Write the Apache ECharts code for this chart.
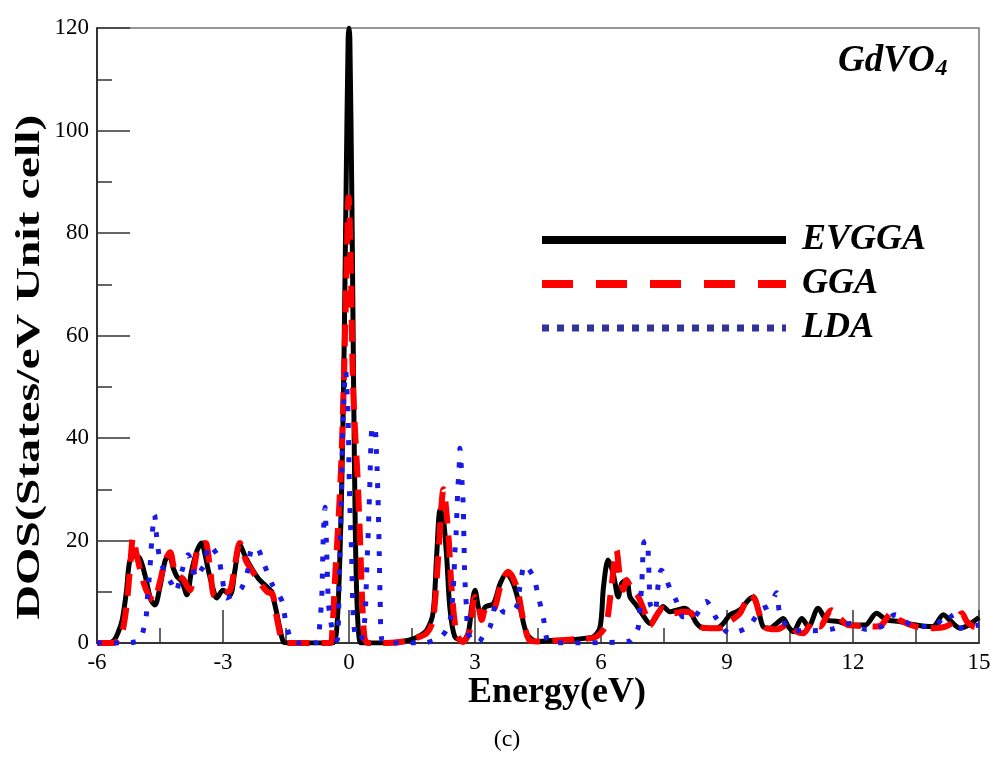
<!DOCTYPE html>
<html><head><meta charset="utf-8">
<script src="https://cdn.jsdelivr.net/npm/echarts@6/dist/echarts.min.js"></script>
<style>html,body{margin:0;padding:0;background:#fff}#c{width:994px;height:757px}</style>
</head><body><div id="c"></div>
<script>
const seriesNames = ['EVGGA', 'GGA', 'LDA'];
const xTicks = [-6, -3, 0, 3, 6, 9, 12, 15];
const yTicks = [0, 20, 40, 60, 80, 100, 120];

const evggaE = [-6,-5.75,-5.6,-5.5,-5.4,-5.3,-5.22,-5.1,-4.98,-4.85,-4.72,-4.62,-4.5,-4.38,-4.28,-4.18,-4.1,-3.98,-3.86,-3.75,-3.62,-3.51,-3.42,-3.35,-3.25,-3.15,-3.0,-2.83,-2.72,-2.6,-2.45,-2.29,-2.15,-2.05,-1.9,-1.84,-1.78,-1.72,-1.65,-1.56,-1.45,-0.4,-0.3,-0.22,-0.17,-0.12,-0.07,-0.02,0,0.02,0.07,0.11,0.15,0.19,0.24,0.3,0.8,1.2,1.45,1.7,1.85,2.0,2.09,2.17,2.25,2.33,2.4,2.52,2.71,2.84,2.92,3.0,3.08,3.16,3.24,3.44,3.6,3.75,3.91,4.07,4.23,4.47,4.8,5.2,5.6,5.82,5.98,6.06,6.17,6.29,6.41,6.49,6.61,6.69,6.81,6.97,7.17,7.29,7.48,7.64,7.8,8.0,8.16,8.28,8.44,8.75,8.91,9.07,9.23,9.35,9.51,9.63,9.75,9.86,10.02,10.18,10.34,10.46,10.58,10.78,10.94,11.17,11.37,11.65,11.97,12.29,12.56,12.8,13.1,13.5,13.9,14.15,14.3,14.55,14.75,14.87,15];
const evggaDOS = [0,0,0.5,2,4.5,10,16,17,16.5,13,8.5,7.4,11,16,17.2,14.5,13,12,9.4,14,18,19.5,17,14.2,11,8.8,10.3,9.4,14,19.1,16.5,14.2,12.5,11.7,10.5,10,8,5.8,3,0.2,0,0,2,16,32,55,88,118,120,118,85,50,22,8,1,0,0,0.2,0.6,1.5,2.5,5.8,17.5,26,24,16.2,7,1.2,0.5,2,7,10.3,7,5.1,7,7.7,11.6,13.6,11.6,7.1,1.9,0.3,0.5,0.6,0.9,1.2,3.2,11,16.2,13.6,9,11.6,12.3,9,7.7,5.8,3.8,4.8,7.1,6.1,6.4,6.8,5.5,3.8,2.9,2.9,3.8,5.5,6.1,6.8,8.4,9,6.4,3.2,2.9,3.8,4.8,3.2,2.2,4.8,3.2,6.8,4.5,4.2,3.5,3.5,5.8,4.5,4.2,3.5,3.2,5.5,4.5,2.9,3.5,4.2,5];

const ggaE = [-6,-5.6,-5.5,-5.4,-5.3,-5.22,-5.14,-5.05,-4.9,-4.75,-4.65,-4.5,-4.38,-4.26,-4.15,-4.05,-3.95,-3.85,-3.78,-3.68,-3.59,-3.45,-3.39,-3.3,-3.2,-3.0,-2.83,-2.72,-2.6,-2.45,-2.3,-2.1,-1.95,-1.82,-1.72,-1.6,-1.5,-0.45,-0.4,-0.33,-0.25,-0.18,-0.12,-0.06,-0.01,0.04,0.09,0.14,0.2,0.26,0.31,0.37,0.45,0.9,1.3,1.6,1.85,2.0,2.13,2.25,2.37,2.44,2.56,2.71,2.86,3.0,3.08,3.16,3.27,3.43,3.6,3.79,3.99,4.15,4.3,4.47,5.0,5.5,5.82,6.0,6.13,6.25,6.37,6.45,6.53,6.61,6.73,6.89,7.05,7.17,7.33,7.48,7.72,7.96,8.16,8.36,8.6,8.83,9.07,9.31,9.55,9.67,9.79,9.94,10.2,10.34,10.46,10.66,10.82,11.05,11.2,11.49,11.69,11.89,12.3,12.56,12.68,12.92,13.1,13.5,13.9,14.2,14.45,14.59,14.71,14.87,15];
const ggaDOS = [0,0,0.5,2,7,14,20.5,17,12,9,8.3,12,16,17.7,14,13,12.5,11,10.3,15,18.6,19.5,19.3,14,9.1,9.8,10.3,15,19.5,16,14,11.5,10,9.5,5,0.6,0,0,2,13,24,36,52,72,87,75,52,42,33,21,9,1,0,0,0.3,1,1.9,4.5,17.5,30,20.7,11,1.9,0.2,2,9,7.5,4.5,7,6.5,10.9,13.9,11,4.5,0.5,0.3,0.5,0.8,1,2,3.8,11,18.1,12.9,10.4,12.3,10.4,9,5.8,3.5,5.5,6.8,5.8,6.1,5.8,3.2,2.9,2.9,4.2,5.8,9.4,8.4,5.2,2.9,2.7,3.2,3.8,2.2,1.9,4.2,3.2,6.4,4.8,3.5,3.3,3.2,3.5,5.8,4.5,3.2,2.9,3.2,4.5,5.8,4.2,3.2,3];

const ldaE = [-6,-5.3,-5.1,-4.98,-4.88,-4.83,-4.8,-4.76,-4.72,-4.69,-4.63,-4.58,-4.51,-4.42,-4.33,-4.22,-4.13,-3.98,-3.83,-3.72,-3.64,-3.5,-3.44,-3.33,-3.2,-3.1,-3.02,-2.91,-2.75,-2.56,-2.41,-2.33,-2.21,-2.02,-1.82,-1.59,-1.51,-1.42,-1.35,-1.2,-0.8,-0.73,-0.69,-0.65,-0.61,-0.57,-0.54,-0.51,-0.49,-0.44,-0.35,-0.28,-0.23,-0.2,-0.17,-0.15,-0.12,-0.08,-0.04,-0.02,0,0.02,0.06,0.08,0.12,0.2,0.3,0.38,0.42,0.46,0.5,0.52,0.56,0.62,0.65,0.67,0.7,0.72,0.74,0.78,0.9,1.77,2.1,2.22,2.35,2.42,2.47,2.5,2.52,2.55,2.57,2.59,2.62,2.64,2.67,2.69,2.72,2.73,2.74,2.75,2.77,2.8,2.83,2.95,3.08,3.2,3.36,3.48,3.56,3.67,3.83,3.99,4.07,4.19,4.39,4.51,4.63,4.71,4.85,6.65,6.8,6.89,6.93,6.97,6.99,7.02,7.1,7.13,7.15,7.17,7.29,7.34,7.44,7.64,7.8,7.96,8.2,8.5,8.75,9.07,9.51,9.79,10.02,10.18,10.26,10.54,11.0,11.49,11.93,12.29,12.68,13.0,13.42,13.9,14.27,14.5,14.75,15];
const ldaDOS = [0,0,0.2,0.6,3,5,8.8,12.4,16.9,20.8,25,20.8,16.6,14.5,13,11.5,10,14,17.2,14.5,12.7,14.5,15.3,19.1,18,16.6,12.7,8.8,9.5,10.7,14.2,18.1,18.7,15.3,11.3,8.1,4.2,1.5,0.3,0,0,0.6,4.5,8.5,21.4,26.5,20,12.3,7.8,4.5,1,0.6,12.9,21.4,33,41.6,48,53,48,43.5,34.4,26.6,18.1,10.3,3.2,0.5,1,5.1,13.6,22,32,38.3,42.2,42,38,33.8,25.4,17.6,9,0.6,0,0,0.8,1.4,3,5.1,9,13.3,17.5,21.4,25.6,29.9,33.8,38,35,31.6,26.9,22.8,18.8,14.6,10.7,6.4,2.2,0.3,0.1,1.5,3.2,7.4,7.7,6.1,5.9,7.1,11,15.2,12.9,9,4.8,0.9,0,0.3,1.5,3.2,7.2,11.3,15.5,19.6,20,15.9,11.8,7.7,6.1,10,14.2,10.7,8.1,5.1,5.1,8.1,4.8,1.9,3.2,6.4,7.4,9.8,5.8,2.5,2.4,2.7,3.8,2.7,3.2,5.5,3.4,3.2,5.8,2.9,3.2,3.5];

function pairs(xs, ys) { return xs.map((x, i) => [x, ys[i]]); }

const F = '"Liberation Serif", "Times New Roman", serif';
const chart = echarts.init(document.getElementById('c'), null, { renderer: 'canvas' });

const axisCommon = {
  type: 'value',
  axisLine: { onZero: false, lineStyle: { color: '#333', width: 2 } },
  axisTick: { inside: true, length: 33, lineStyle: { color: '#333', width: 1.5 } },
  minorTick: { show: true, splitNumber: 2, length: 15, lineStyle: { color: '#333', width: 1.5 } },
  splitLine: { show: false },
  axisLabel: { fontFamily: F, fontSize: 23, color: '#000' }
};

const hidden = { color: 'rgba(0,0,0,0)', borderWidth: 0, opacity: 0 };

const option = {
  animation: false,
  backgroundColor: '#fff',
  grid: { left: 97, right: 15, top: 28, bottom: 114, show: true, borderColor: '#777', borderWidth: 1.5 },
  xAxis: Object.assign({}, axisCommon, {
    min: xTicks[0], max: xTicks[xTicks.length - 1], interval: xTicks[1] - xTicks[0],
    axisLabel: Object.assign({}, axisCommon.axisLabel, { margin: 8 })
  }),
  yAxis: Object.assign({}, axisCommon, {
    min: yTicks[0], max: yTicks[yTicks.length - 1], interval: yTicks[1] - yTicks[0],
    axisLabel: Object.assign({}, axisCommon.axisLabel, { margin: 8 })
  }),
  title: {
    text: '{a|GdVO}{b|4}',
    left: 833, top: 36,
    textStyle: {
      rich: {
        a: { fontFamily: F, fontSize: 37, fontStyle: 'italic', fontWeight: 'bold', color: '#000' },
        b: { fontFamily: F, fontSize: 24, fontStyle: 'italic', fontWeight: 'bold', color: '#000', padding: [16, 0, 0, 1] }
      }
    }
  },
  legend: {
    show: true,
    orient: 'vertical', left: 538, top: 222, width: 430, padding: 0,
    itemWidth: 244, itemHeight: 10, itemGap: 8,
    selectedMode: false,
    textStyle: { fontFamily: F, fontSize: 36, fontStyle: 'italic', fontWeight: 'bold', color: '#000', padding: [0, 0, 0, 11] },
    data: [
      { name: seriesNames[0], itemStyle: hidden, lineStyle: { width: 8, type: 'solid', color: '#000' } },
      { name: seriesNames[1], itemStyle: hidden, lineStyle: { width: 8, type: [31, 23], color: '#ff0000' } },
      { name: seriesNames[2], itemStyle: hidden, lineStyle: { width: 7, type: [7, 8], color: '#333399' } }
    ]
  },
  series: [
    { name: seriesNames[0], type: 'line', data: pairs(evggaE, evggaDOS), symbol: 'none', smooth: 0.3,
      lineStyle: { color: '#000', width: 5 }, itemStyle: { color: '#000' } },
    { name: seriesNames[1], type: 'line', data: pairs(ggaE, ggaDOS), symbol: 'none', smooth: 0.3,
      lineStyle: { color: '#ff0000', width: 6, type: [22, 12] }, itemStyle: { color: '#ff0000' } },
    { name: seriesNames[2], type: 'line', data: pairs(ldaE, ldaDOS), symbol: 'none', smooth: 0.3,
      lineStyle: { color: '#1a1ae6', width: 5, type: [5, 12] }, itemStyle: { color: '#1a1ae6' } }
  ],
  graphic: [
    { type: 'text', x: 30, y: 367, rotation: Math.PI / 2, scaleX: 1.45,
      style: { text: 'DOS(States/eV Unit cell)', font: 'bold 33px ' + F, fill: '#000', align: 'center', verticalAlign: 'middle' } },
    { type: 'text', x: 557, y: 693,
      style: { text: 'Energy(eV)', font: 'bold 36px ' + F, fill: '#000', align: 'center', verticalAlign: 'middle' } },
    { type: 'text', x: 507, y: 740,
      style: { text: '(c)', font: '24px ' + F, fill: '#000', align: 'center', verticalAlign: 'middle' } }
  ]
};
chart.setOption(option);
</script>
</body></html>
